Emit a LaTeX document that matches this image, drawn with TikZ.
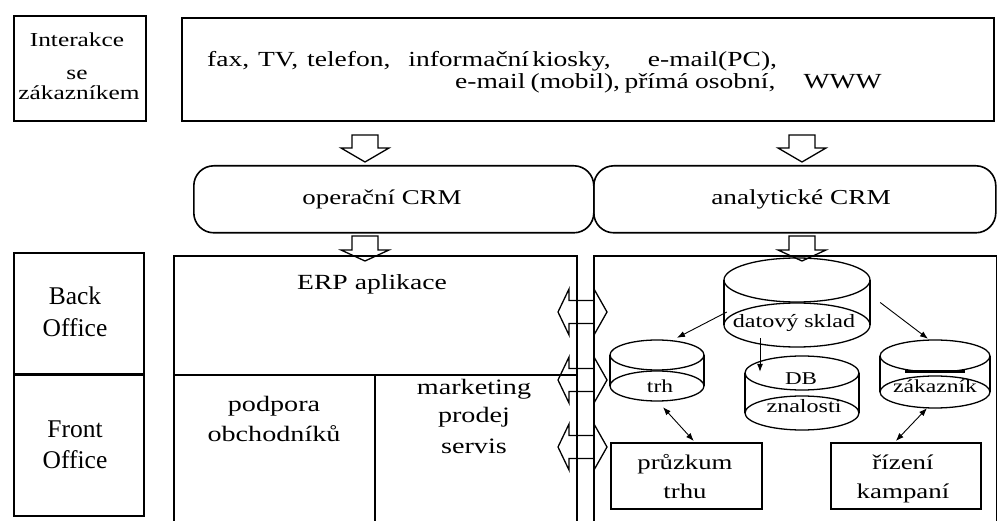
\documentclass[tikz,border=0pt]{standalone}
\usepackage{fontspec}
\setmainfont{Liberation Serif}
\usetikzlibrary{calc,arrows.meta}

\newcommand\fsz[1]{\fontsize{#1}{#1}\selectfont}
% the lettering of this chart is set wide
\newcommand\sx[1]{\scalebox{1.28}[1]{#1}}

\tikzset{
  lbl/.style={inner sep=0pt, anchor=base, font={\fsz{#1}}},
  box/.style={draw, line width=1.6pt, inner sep=0pt},
  blk/.style={draw, line width=1.3pt, line join=miter},
  drumline/.style={line width=1.3pt},
  con/.style={line width=0.9pt},
  tip/.style={-{Latex[length=8pt,width=6pt]}},
  tips/.style={{Latex[length=8pt,width=6pt]}-{Latex[length=8pt,width=6pt]}},
}

% rectangle node given by two corners
\newcommand\rectnode[6]{%
  \node[#6, anchor=north west, minimum width={(#4-#2)*1pt},
        minimum height={(#5-#3)*1pt}] (#1) at (#2,#3) {};}

% hollow block arrow pointing down: centre x, top, head base, tip
\newcommand\downblock[4]{%
  \draw[blk] ({#1-13},#2) -- ({#1+13},#2) -- ({#1+13},#3) -- ({#1+24},#3)
    -- (#1,#4) -- ({#1-24},#3) -- ({#1-13},#3) -- cycle;}

% hollow double block arrow, horizontal, centred at height #1
\newcommand\twoway[1]{%
  \draw[blk] (558,#1) -- (569,{#1-23}) -- (569,{#1-11.5}) -- (594,{#1-11.5})
    -- (594,{#1-23}) -- (607,#1) -- (594,{#1+23}) -- (594,{#1+11.5})
    -- (569,{#1+11.5}) -- (569,{#1+23}) -- cycle;}

% database drum: name, centre x, top ellipse y, bottom ellipse y, rx, ry
\newcommand\drum[6]{%
  \node[inner sep=0pt, minimum width={2*#5*1pt},
        minimum height={(#4-#3+2*#6)*1pt}] (#1) at (#2,{(#3+#4)/2}) {};
  \draw[drumline] (#2,#3) ellipse [x radius=#5pt, y radius=#6pt];
  \draw[drumline] (#2,#4) ellipse [x radius=#5pt, y radius=#6pt];
  \draw[drumline] ({#2-#5},#3) -- ({#2-#5},#4)
                  ({#2+#5},#3) -- ({#2+#5},#4);}

\begin{document}
\begin{tikzpicture}[x=1pt,y=-1pt]
\useasboundingbox[fill=white] (0,0) rectangle (997,521);

% --- customer interaction row
\rectnode{inter}{13}{15}{145}{120}{box}
\node[lbl=19.8] (t-inter1) at (77,47) {\sx{Interakce}};
\node[lbl=19.8] (t-inter2) at (77,80) {\sx{se}};
\node[lbl=19.8] (t-inter3) at (79,100) {\sx{zákazníkem}};

\rectnode{chan}{181}{17}{993}{120}{box}
\node[lbl=21.5, anchor=base west] (t-chan1) at (207,67)
  {\sx{fax,\hspace{7pt}TV,\hspace{7pt}telefon,\hspace{14pt}informační\hspace{2.5pt}kiosky,\hspace{29pt}e-mail(PC),}};
\node[lbl=21.5, anchor=base west] (t-chan2) at (455,89)
  {\sx{e-mail\hspace{4pt}(mobil),\hspace{3.5pt}přímá\hspace{5pt}osobní,\hspace{22pt}WWW}};

\downblock{365}{135}{148}{162}
\downblock{802}{135}{148}{162}

% --- CRM layer
\node[box, rounded corners=20pt, anchor=north west, minimum width=400pt,
      minimum height=67pt] (crmo) at (193,165) {};
\node[box, rounded corners=20pt, anchor=north west, minimum width=402pt,
      minimum height=67pt] (crma) at (593,165) {};
\node[lbl=21] (t-crmo) at (382,205) {\sx{operační CRM}};
\node[lbl=21.3] (t-crma) at (801,205) {\sx{analytické CRM}};

\downblock{365}{236}{250}{261}
\downblock{802}{236}{250}{261}

% --- office labels
\rectnode{back}{13}{252}{143}{373}{box}
\rectnode{front}{13}{373}{143}{515}{box}
\draw[line width=3pt] (back.south west) -- (back.south east);
\node[lbl=25.5] (t-back1) at (75,305) {Back};
\node[lbl=25.5] (t-back2) at (75,337) {Office};
\node[lbl=25.5] (t-front1) at (75,438) {Front};
\node[lbl=25.5] (t-front2) at (75,468) {Office};

% --- operational applications
\rectnode{erp}{173}{255}{576}{374}{box}
\rectnode{podp}{173}{374}{374}{540}{box}
\rectnode{mark}{374}{374}{576}{540}{box}
\node[lbl=21.6] (t-erp) at (372,290) {\sx{ERP aplikace}};
\node[lbl=22] (t-podp1) at (274,412) {\sx{podpora}};
\node[lbl=22] (t-podp2) at (274,442) {\sx{obchodníků}};
\node[lbl=22] (t-mark1) at (474,395) {\sx{marketing}};
\node[lbl=22] (t-mark2) at (474,423) {\sx{prodej}};
\node[lbl=22] (t-mark3) at (474,454) {\sx{servis}};

% --- analytical part
\rectnode{anal}{593}{255}{996}{540}{box}

\twoway{312}
\twoway{380}
\twoway{447}

\drum{ds}{797}{280}{325}{73}{22}
\drum{trh}{657}{355}{386}{47}{15}
\drum{db}{802}{373}{413}{57}{17}
\drum{zak}{935}{356}{392}{55}{16}
\draw[line width=2.6pt] (905,371.5) -- (965,371.5);

\node[lbl=18.8] (t-ds) at (794,328) {\sx{datový sklad}};
\node[lbl=18.3] (t-trh) at (660,393) {\sx{trh}};
\node[lbl=18] (t-db1) at (801,385) {\sx{DB}};
\node[lbl=18.8] (t-db2) at (804,413) {\sx{znalosti}};
\node[lbl=18.4] (t-zak) at (935,393) {\sx{zákazník}};

\rectnode{prz}{610}{442}{761}{508}{box}
\rectnode{riz}{830}{442}{980}{508}{box}
\node[lbl=20.9] (t-prz1) at (685,470) {\sx{průzkum}};
\node[lbl=20.9] (t-prz2) at (685,498) {\sx{trhu}};
\node[lbl=21] (t-riz1) at (903,470) {\sx{řízení}};
\node[lbl=21] (t-riz2) at (903,498) {\sx{kampaní}};

% --- data flows
\draw[con,tip] ($(ds.west)+(3,9.5)$) -- ($(trh.north)+(20,-2)$);
\draw[con,tip] ($(ds.east)+(10,0)$) -- ($(zak.north)+(-7,-1)$);
\draw[con,tip] ($(ds.south)+(-37,-9)$) -- ($(db.north)+(-42,16)$);
\draw[con,tips] ($(trh.south)+(6,6)$) -- ($(prz.north)+(7.5,-1)$);
\draw[con,tips] ($(zak.south)+(-8,0)$) -- ($(riz.north)+(-10,-1)$);
\end{tikzpicture}
\end{document}
